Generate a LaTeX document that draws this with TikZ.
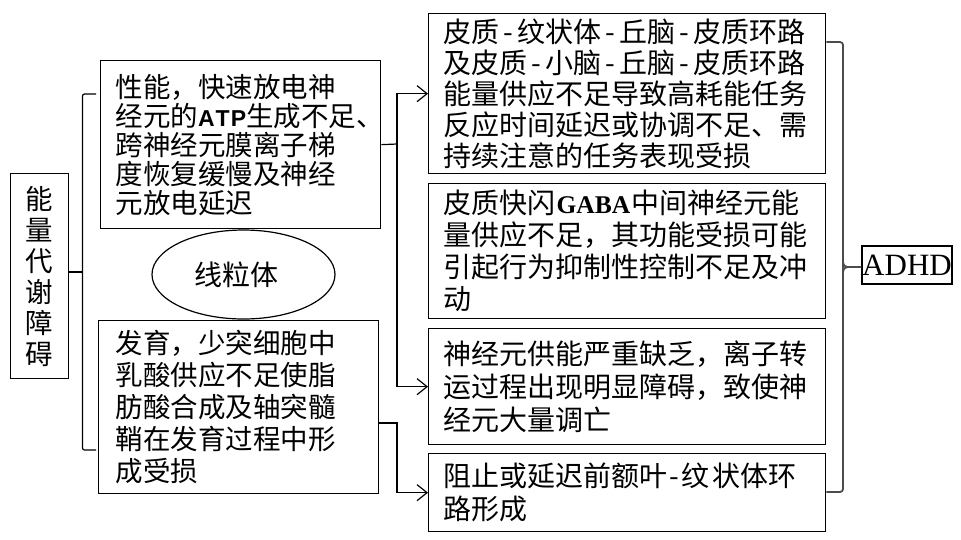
\documentclass[tikz,border=0pt]{standalone}
\usepackage{fontspec}
\setmainfont{Noto Sans CJK SC}
\newfontfamily\latsans{Liberation Sans}
\newfontfamily\latserif{Liberation Serif}
\usetikzlibrary{arrows.meta,shapes.geometric}
\newcommand\hyA{\makebox[0.64em]{-}}
\newcommand\hyD{\makebox[0.5em]{-}}
\newcommand\ATP{{\latsans\bfseries\fontsize{23}{23}\selectfont A\kern1pt T\kern1pt P}}
\newcommand\GABA{{\latserif\bfseries\fontsize{25.5}{25}\selectfont\kern1pt GABA\kern1pt}}
\begin{document}
\begin{tikzpicture}[x=1pt,y=-1pt,
  box/.style={draw, line width=1.3pt, anchor=north west, inner xsep=15pt, inner ysep=0pt, align=left},
  conn/.style={line width=1.2pt},
  arr/.style={-{Straight Barb[length=10pt,width=16pt,line width=1.2pt]}},
  lbrace/.style={line width=1.2pt, rounded corners=2pt},
  rbrace/.style={line width=1.8pt, black!70, rounded corners=3pt}]
\useasboundingbox (0,0) rectangle (961,539);
\fill[white] (0,0) rectangle (961,539);

% left root box
\node[draw, line width=1.3pt, anchor=north west, minimum width=58pt, minimum height=205pt,
      align=center, inner sep=0pt, font=\fontsize{27.5}{31}\selectfont] (lbox) at (10,173)
  {能\\量\\代\\谢\\障\\碍};

% middle boxes
\node[box, text width=250pt, minimum height=168pt, font=\fontsize{27.5}{29}\selectfont] (b1) at (100,60)
  {性能，快速放电神\\经元的\ATP 生成不足、\\跨神经元膜离子梯\\度恢复缓慢及神经\\元放电延迟};
\node[box, inner xsep=17pt, text width=246pt, minimum height=173pt, font=\fontsize{27.5}{32}\selectfont] (b2) at (98,320)
  {发育，少突细胞中\\乳酸供应不足使脂\\肪酸合成及轴突髓\\鞘在发育过程中形\\成受损};

% ellipse
\node[draw, ellipse, line width=1.2pt, minimum width=183pt, minimum height=89pt, inner sep=0pt,
      font=\fontsize{28}{30}\selectfont] (mito) at (243.5,274.5) {线粒体\kern15pt};

% right boxes
\node[box, text width=367pt, minimum height=160pt, font=\fontsize{28}{31}\selectfont] (bA) at (428,13)
  {皮质\hyA 纹状体\hyA 丘脑\hyA 皮质环路\\及皮质\hyA 小脑\hyA 丘脑\hyA 皮质环路\\能量供应不足导致高耗能任务\\反应时间延迟或协调不足、需\\持续注意的任务表现受损};
\node[box, text width=367pt, minimum height=135pt, font=\fontsize{28}{32}\selectfont] (bB) at (428,183)
  {皮质快闪\GABA 中间神经元能\\量供应不足，其功能受损可能\\引起行为抑制性控制不足及冲\\动};
\node[box, text width=367pt, minimum height=116pt, font=\fontsize{28}{33}\selectfont] (bC) at (428,328)
  {神经元供能严重缺乏，离子转\\运过程出现明显障碍，致使神\\经元大量调亡};
\node[box, text width=367pt, minimum height=78pt, font=\fontsize{28}{33}\selectfont] (bD) at (428,453)
  {阻止或延迟前额叶\hyD 纹\kern3pt 状体环\\路形成};

% ADHD
\node[draw, line width=1.3pt, inner xsep=0pt, inner ysep=0pt, minimum width=90pt, minimum height=38pt,
      font=\latserif\fontsize{31}{31}\selectfont] (adhd) at (907,265) {ADHD};

% left brace
\coordinate (lbt) at (96,94);
\coordinate (lbb) at (96,450);
\coordinate (lbm) at (82.5,272);
\draw[lbrace] (lbt) -- (82.5,94) -- (82.5,450) -- (lbb);
\draw[conn] (lbox.east |- lbm) -- (lbm);

% connectors from middle boxes
\coordinate (j1) at (397,144);
\draw[conn] (b1.east) -- (j1);
\draw[conn, arr] (j1) |- (bA.west);
\draw[conn, arr] (j1) |- (bC.west);
\coordinate (b2o) at (b2.east |- 0,423);
\coordinate (j2) at (397,423);
\draw[conn, arr] (b2o) -- (j2) |- (bD.west);

% right brace
\coordinate (rbt) at (bA.east |- 0,42);
\coordinate (rbb) at (bD.east |- 0,492);
\draw[rbrace] (rbt) -- (843,42) -- (843,492) -- (rbb);
\draw[rbrace, rounded corners=0pt] (843,262) .. controls (844,266) .. (848,267) -- (adhd.west |- 0,267);
\draw[rbrace, rounded corners=0pt] (843,272) .. controls (844,268) .. (848,267);
\end{tikzpicture}
\end{document}
